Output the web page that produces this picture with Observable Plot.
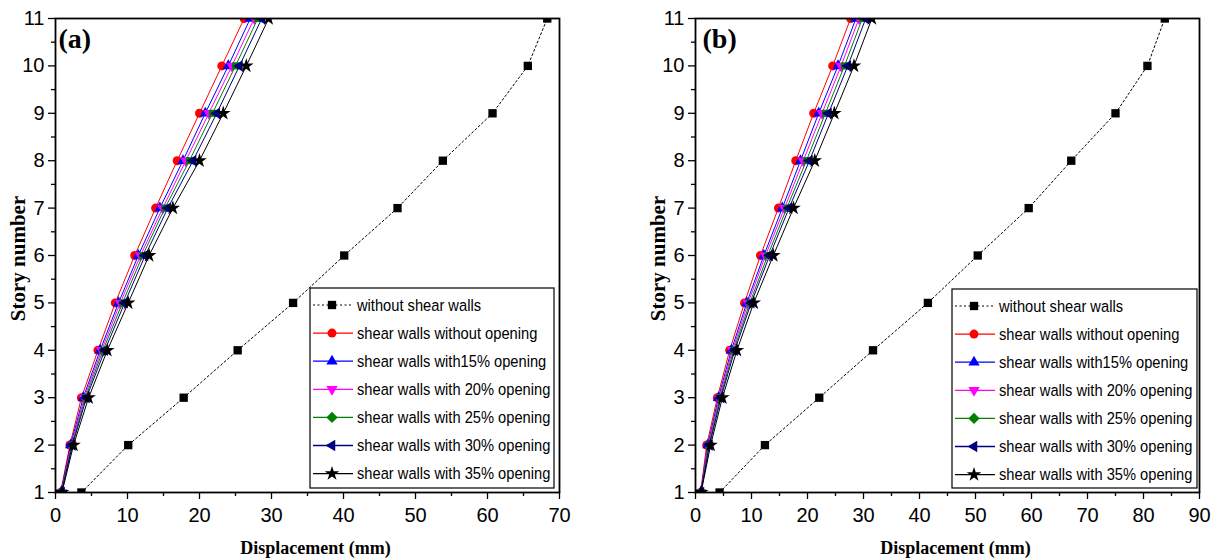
<!DOCTYPE html>
<html>
<head>
<meta charset="utf-8">
<script src="https://cdn.jsdelivr.net/npm/d3@7"></script>
<script src="https://cdn.jsdelivr.net/npm/@observablehq/plot@0.6"></script>
<style>
  html, body { margin: 0; padding: 0; background: #fff; }
  #wrap { display: flex; width: 1224px; height: 560px; }
  #wrap > div { width: 612px; height: 560px; }
</style>
</head>
<body>
<div id="wrap"><div id="pa"></div><div id="pb"></div></div>
<script>
// ---------- data ----------
const stories = [1, 2, 3, 4, 5, 6, 7, 8, 9, 10, 11];
const seriesNames = [
  "without shear walls",
  "shear walls without opening",
  "shear walls with15% opening",
  "shear walls with 20% opening",
  "shear walls with 25% opening",
  "shear walls with 30% opening",
  "shear walls with 35% opening"
];
const seriesColors = ["#000000", "#ff0000", "#0000ff", "#ff00ff", "#008000", "#000080", "#000000"];
const seriesSymbols = ["square", "circle", "triangle", "triangle", "diamond2", "triangle", "star"];
const seriesRotate = [0, 0, 0, 180, 45, -90, 0];

// panel (a) displacements (mm), story 1..11
const aWithout = [3.6, 10.1, 17.8, 25.3, 33.0, 40.1, 47.5, 53.8, 60.7, 65.6, 68.3];
const aNoOpen  = [0.7, 2.0, 3.6, 5.9, 8.3, 11.0, 13.9, 16.9, 20.0, 23.1, 26.2];
const a15      = [0.75, 2.1, 3.85, 6.2, 8.75, 11.5, 14.5, 17.7, 20.8, 24.0, 27.05];
const a20      = [0.8, 2.2, 4.0, 6.4, 9.0, 11.8, 14.9, 18.1, 21.3, 24.5, 27.6];
const a25      = [0.8, 2.3, 4.15, 6.6, 9.3, 12.1, 15.2, 18.6, 21.8, 25.0, 28.1];
const a30      = [0.85, 2.35, 4.3, 6.85, 9.6, 12.45, 15.6, 19.1, 22.4, 25.55, 28.65];
const a35      = [0.9, 2.5, 4.6, 7.2, 10.1, 13.0, 16.3, 20.0, 23.3, 26.5, 29.6];

// panel (b) displacements (mm), story 1..11
const bWithout = [4.3, 12.4, 22.1, 31.7, 41.5, 50.4, 59.5, 67.1, 75.0, 80.7, 83.8];
const bNoOpen  = [0.9, 2.0, 3.9, 6.1, 8.75, 11.6, 14.8, 17.9, 21.1, 24.5, 27.7];
const b15      = [0.93, 2.2, 4.1, 6.4, 9.15, 12.2, 15.5, 18.75, 22.0, 25.45, 28.65];
const b20      = [0.94, 2.3, 4.25, 6.6, 9.4, 12.5, 15.9, 19.25, 22.6, 26.0, 29.2];
const b25      = [0.96, 2.4, 4.4, 6.8, 9.7, 12.9, 16.3, 19.8, 23.2, 26.6, 29.8];
const b30      = [0.97, 2.5, 4.55, 7.0, 9.95, 13.25, 16.7, 20.35, 23.75, 27.2, 30.4];
const b35      = [1.0, 2.7, 4.8, 7.4, 10.4, 13.9, 17.5, 21.3, 24.8, 28.3, 31.5];

// ticks
const yTicks = [1, 2, 3, 4, 5, 6, 7, 8, 9, 10, 11];
const yMinor = [1.5, 2.5, 3.5, 4.5, 5.5, 6.5, 7.5, 8.5, 9.5, 10.5];
const xTicksA = [0, 10, 20, 30, 40, 50, 60, 70];
const xMinorA = [5, 15, 25, 35, 45, 55, 65];
const xTicksB = [0, 10, 20, 30, 40, 50, 60, 70, 80, 90];
const xMinorB = [5, 15, 25, 35, 45, 55, 65, 75, 85];

const symbolRadius = {square: 4.7, circle: 4.5, triangle: 4.2, diamond2: 4.5, star: 4.6};
const d3Symbols = {square: d3.symbolSquare, circle: d3.symbolCircle, triangle: d3.symbolTriangle, diamond2: d3.symbolSquare, star: d3.symbolStar};

function panel(el, cfg) {
  const marks = [];
  cfg.series.forEach((vals, i) => {
    const rows = stories.map((s, k) => ({story: s, disp: vals[k]}));
    marks.push(Plot.line(rows, {
      x: "disp", y: "story", stroke: seriesColors[i], strokeWidth: 1,
      strokeDasharray: i === 0 ? "2,2.5" : null, clip: true
    }));
    marks.push(Plot.dot(rows, {
      x: "disp", y: "story", symbol: seriesSymbols[i], rotate: seriesRotate[i],
      r: symbolRadius[seriesSymbols[i]], fill: seriesColors[i], stroke: "none", clip: true
    }));
  });
  const svg = Plot.plot({
    width: 612, height: 560,
    marginLeft: cfg.ml, marginRight: cfg.mr, marginTop: 18, marginBottom: 68,
    style: {fontFamily: "'Liberation Sans', Arial, sans-serif", color: "#000", background: "#fff"},
    x: {domain: [0, cfg.xMax], label: null},
    y: {domain: [1, 11], label: null},
    marks: [
      Plot.axisX({ticks: cfg.xTicks, tickSize: 7, tickPadding: 8, fontSize: 20, strokeWidth: 1.3, label: null}),
      Plot.axisX({ticks: cfg.xMinor, tickSize: 4, tickFormat: () => "", strokeWidth: 1.3, label: null}),
      Plot.axisY({ticks: yTicks, tickSize: 7, tickPadding: 4, fontSize: 20, strokeWidth: 1.3, label: null}),
      Plot.axisY({ticks: yMinor, tickSize: 4, tickFormat: () => "", strokeWidth: 1.3, label: null}),
      ...marks,
      Plot.frame({stroke: "#000", strokeWidth: 1.8}),
      Plot.text([cfg.tag], {frameAnchor: "top-left", dx: cfg.tagDx, dy: 21, textAnchor: "start", lineAnchor: "middle",
        fontSize: 28, fontWeight: "bold", fontFamily: "'Liberation Serif', 'Times New Roman', serif", fill: "#000"}),
      Plot.text(["Story number"], {frameAnchor: "left", dx: cfg.ylabDx, dy: 3, rotate: -90, textAnchor: "middle", lineAnchor: "middle",
        fontSize: 21, fontWeight: "bold", fontFamily: "'Liberation Serif', 'Times New Roman', serif", fill: "#000"}),
      Plot.text(["Displacement (mm)"], {frameAnchor: "bottom", dx: 8, dy: 56, textAnchor: "middle", lineAnchor: "middle",
        fontSize: 18, fontWeight: "bold", fontFamily: "'Liberation Serif', 'Times New Roman', serif", fill: "#000"})
    ]
  });

  // legend box inside the plot
  const g = d3.select(svg).append("g").attr("text-anchor", "start");
  const L = cfg.legend;
  g.append("rect").attr("x", L.x).attr("y", L.y).attr("width", L.w).attr("height", L.h)
    .attr("fill", "#fff").attr("stroke", "#000").attr("stroke-width", 1.2);
  seriesNames.forEach((name, i) => {
    const yy = L.y + 17 + i * 28.1;
    g.append("line").attr("x1", L.x + 3).attr("x2", L.x + 43).attr("y1", yy).attr("y2", yy)
      .attr("stroke", seriesColors[i]).attr("stroke-width", i === 0 ? 1 : 1.3)
      .attr("stroke-dasharray", i === 0 ? "2,2.5" : null);
    const sym = seriesSymbols[i];
    const rr = symbolRadius[sym];
    g.append("path")
      .attr("d", d3.symbol().type(d3Symbols[sym]).size(Math.PI * rr * rr)())
      .attr("transform", `translate(${L.x + 22},${yy}) rotate(${seriesRotate[i]})`)
      .attr("fill", seriesColors[i]);
    g.append("text")
      .attr("transform", `translate(${L.x + 47},${yy}) scale(0.89,1)`)
      .attr("text-anchor", "start")
      .attr("dominant-baseline", "central")
      .attr("font-family", "'Liberation Sans', Arial, sans-serif")
      .attr("font-size", 16.5).attr("fill", "#000")
      .text(name);
  });
  el.appendChild(svg);
}

panel(document.getElementById("pa"), {
  xMax: 70, xTicks: xTicksA, xMinor: xMinorA, ml: 55, mr: 53, tag: "(a)", tagDx: 3, ylabDx: -37,
  series: [aWithout, aNoOpen, a15, a20, a25, a30, a35],
  legend: {x: 310, y: 288, w: 244, h: 200}
});
panel(document.getElementById("pb"), {
  xMax: 90, xTicks: xTicksB, xMinor: xMinorB, ml: 83, mr: 25, tag: "(b)", tagDx: 7, ylabDx: -37,
  series: [bWithout, bNoOpen, b15, b20, b25, b30, b35],
  legend: {x: 340, y: 289, w: 245, h: 199}
});
</script>
</body>
</html>
